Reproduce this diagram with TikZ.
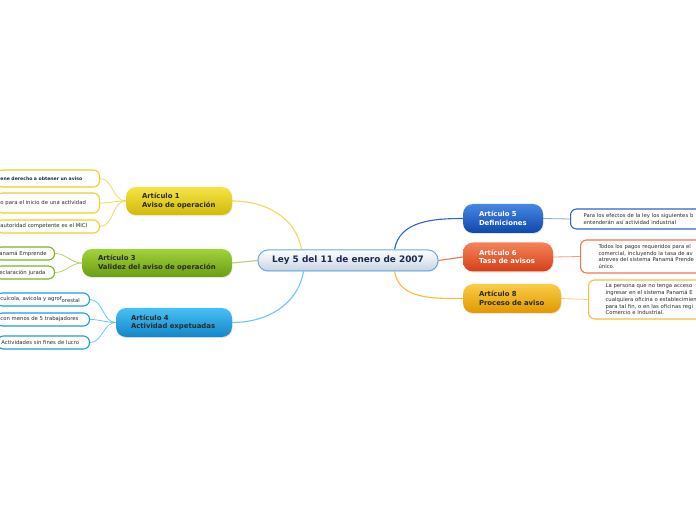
\documentclass[tikz,border=0pt]{standalone}
\usepackage{fontspec}
\setmainfont{DejaVu Sans}
\usetikzlibrary{calc,shadows,backgrounds}
\hyphenpenalty=10000
\exhyphenpenalty=10000
\definecolor{ylwT}{HTML}{F4E446}\definecolor{ylwB}{HTML}{D2BA08}\definecolor{ylwL}{HTML}{F0DA5C}\definecolor{ylwE}{HTML}{EDD222}
\definecolor{grnT}{HTML}{A2D23A}\definecolor{grnB}{HTML}{6A9E12}\definecolor{grnL}{HTML}{B2D46E}\definecolor{grnE}{HTML}{7DB522}
\definecolor{bluT}{HTML}{48C0F4}\definecolor{bluB}{HTML}{1286C8}\definecolor{bluL}{HTML}{6CC8F0}\definecolor{bluE}{HTML}{1E9EDA}
\definecolor{dbT}{HTML}{4688E4}\definecolor{dbB}{HTML}{0E46AE}\definecolor{dbL}{HTML}{2A66D0}
\definecolor{orT}{HTML}{F4845A}\definecolor{orB}{HTML}{D63E16}\definecolor{orL}{HTML}{F07452}
\definecolor{amT}{HTML}{FACC46}\definecolor{amB}{HTML}{E09800}\definecolor{amL}{HTML}{F8BC3A}
\definecolor{cenE}{HTML}{6AA8E0}\definecolor{cenB}{HTML}{C6D4E4}\definecolor{navy}{HTML}{1A2A50}
\definecolor{txt}{HTML}{2A2A2A}
\tikzset{
  branch/.style={rounded corners=10pt, minimum height=#1, inner xsep=16pt, inner ysep=0pt,
    align=left, font=\fontsize{6.9}{8.5}\selectfont\bfseries,
    drop shadow={opacity=0.18, shadow xshift=0.6pt, shadow yshift=-1.2pt}},
  leaf/.style={rounded corners=6pt, draw=#1, line width=1.1pt, fill=white, inner ysep=0pt,
    align=left, font=\fontsize{5.3}{6.8}\selectfont, text=txt},
  conn/.style={line width=1.1pt},
  lconn/.style={line width=0.8pt}
}
\begin{document}
\begin{tikzpicture}[x=1pt,y=1pt]
\useasboundingbox (0,0) rectangle (696,520);
% central
\node[rounded corners=10pt, draw=cenE, line width=1pt, top color=white, bottom color=cenB,
  minimum width=180pt, minimum height=21pt, inner sep=0pt, text=navy,
  font=\fontsize{8.9}{10}\selectfont\bfseries,
  drop shadow={opacity=0.15, shadow xshift=0.6pt, shadow yshift=-1pt}]
  (c) at (348,259.5) {\raisebox{-1.2pt}{Ley 5 del 11 de enero de 2007}};
% branches
\node[branch=28pt, top color=ylwT, bottom color=ylwB, text=txt, text width=74pt] (a1) at (179,319) {Artículo 1\\Aviso de operación};
\node[branch=28pt, top color=grnT, bottom color=grnB, text=txt, text width=118pt] (a3) at (157,257) {Artículo 3\\Validez del aviso de operación};
\node[branch=29pt, top color=bluT, bottom color=bluB, text=txt, text width=86pt, inner xsep=15pt] (a4) at (174,197.5) {Artículo 4\\Actividad expetuadas};
\node[branch=29pt, top color=dbT, bottom color=dbB, text=white, text width=48pt] (a5) at (503,301.5) {Artículo 5\\Definiciones};
\node[branch=29pt, top color=orT, bottom color=orB, text=white, text width=58pt] (a6) at (508,263) {Artículo 6\\Tasa de avisos};
\node[branch=29pt, top color=amT, bottom color=amB, text=txt, text width=66pt] (a8) at (512,221.5) {Artículo 8\\Proceso de aviso};
% left leaves
\node[leaf=ylwE, anchor=east, minimum height=17pt, inner xsep=4pt, text width=95pt, font=\fontsize{4.6}{6}\selectfont\bfseries, text=navy] (l1) at (100,341.5) {ene derecho a obtener un aviso};
\node[leaf=ylwE, anchor=east, minimum height=20pt, inner xsep=4pt, text width=95pt] (l2) at (100,317) {o para el inicio de una actividad};
\node[leaf=ylwE, anchor=east, minimum height=13pt, inner xsep=4pt, text width=95pt] (l3) at (100,293.5) {autoridad competente es el MICI};
\node[leaf=grnE, anchor=east, minimum height=13pt, inner xsep=4pt, text width=51pt] (g1) at (55,266.5) {anamá Emprende};
\node[leaf=grnE, anchor=east, minimum height=13pt, inner xsep=4pt, text width=51pt] (g2) at (55,247.5) {eclaración jurada};
\node[leaf=bluE, anchor=east, minimum height=13pt, inner xsep=4pt, text width=85pt] (b1) at (90,220.5) {cuícola, avícola y agrof\raisebox{-1.3pt}{orestal}};
\node[leaf=bluE, anchor=east, minimum height=13pt, inner xsep=4pt, text width=85pt] (b2) at (90,200.5) {con menos de 5 trabajadores};
\node[leaf=bluE, anchor=east, minimum height=13pt, inner xsep=4pt, text width=84pt] (b3) at (90,177.5) {Actividades sin fines de lucro};
% right leaves
\node[leaf=dbL, anchor=west, minimum height=20pt, inner xsep=13pt, text width=200pt] (r5) at (570,301) {Para los efectos de la ley los siguientes b\\entenderán así actividad industrial};
\node[leaf=orL, anchor=west, minimum height=33pt, inner xsep=18pt, text width=200pt] (r6) at (580,263.5) {Todos los pagos requeridos para el\\comercial, incluyendo la tasa de av\\atreves del sistema Panamá Prende\\único.};
\node[leaf=amL, anchor=west, minimum height=39pt, inner xsep=17pt, text width=200pt] (r8) at (588,220.5) {La persona que no tenga acceso\\ingresar en el sistema Panamá E\\cualquiera oficina o establecimien\\para tal fin, o en las oficinas regi\\Comercio e Industrial.};
% anchor points on central node
\coordinate (cyl) at ($(c.north west)+(44,0)$);
\coordinate (cbl) at ($(c.south west)+(46,0)$);
\coordinate (cdb) at ($(c.north west)+(137,0)$);
\coordinate (cam) at ($(c.south west)+(137,0)$);
\begin{scope}[on background layer]
\fill[white] (0,0) rectangle (696,520);
% connectors to branches
\draw[conn, ylwL] (cyl) to[out=100,in=0] (a1.east);
\draw[conn, grnL] (c.west) -- (a3.east);
\draw[conn, bluL] (cbl) to[out=-100,in=0] (a4.east);
\draw[conn, dbL] (cdb) to[out=80,in=180] (a5.west);
\draw[conn, orL] (c.east) -- (a6.west);
\draw[conn, amL] (cam) to[out=-80,in=180] (a8.west);
% leaf connectors
\draw[lconn, ylwL] (a1.west) to[out=180,in=0] (l1.east);
\draw[lconn, ylwL] (a1.west) to[out=180,in=0] (l2.east);
\draw[lconn, ylwL] (a1.west) to[out=180,in=0] (l3.east);
\draw[lconn, grnL] (a3.west) to[out=180,in=0] (g1.east);
\draw[lconn, grnL] (a3.west) to[out=180,in=0] (g2.east);
\draw[lconn, bluL] (a4.west) to[out=180,in=0] (b1.east);
\draw[lconn, bluL] (a4.west) to[out=180,in=0] (b2.east);
\draw[lconn, bluL] (a4.west) to[out=180,in=0] (b3.east);
\draw[lconn, dbL!60] (a5.east) -- (r5.west);
\draw[lconn, orL!70] (a6.east) -- (r6.west);
\draw[lconn, amL!70] (a8.east) -- (r8.west);
\end{scope}
\end{tikzpicture}
\end{document}
